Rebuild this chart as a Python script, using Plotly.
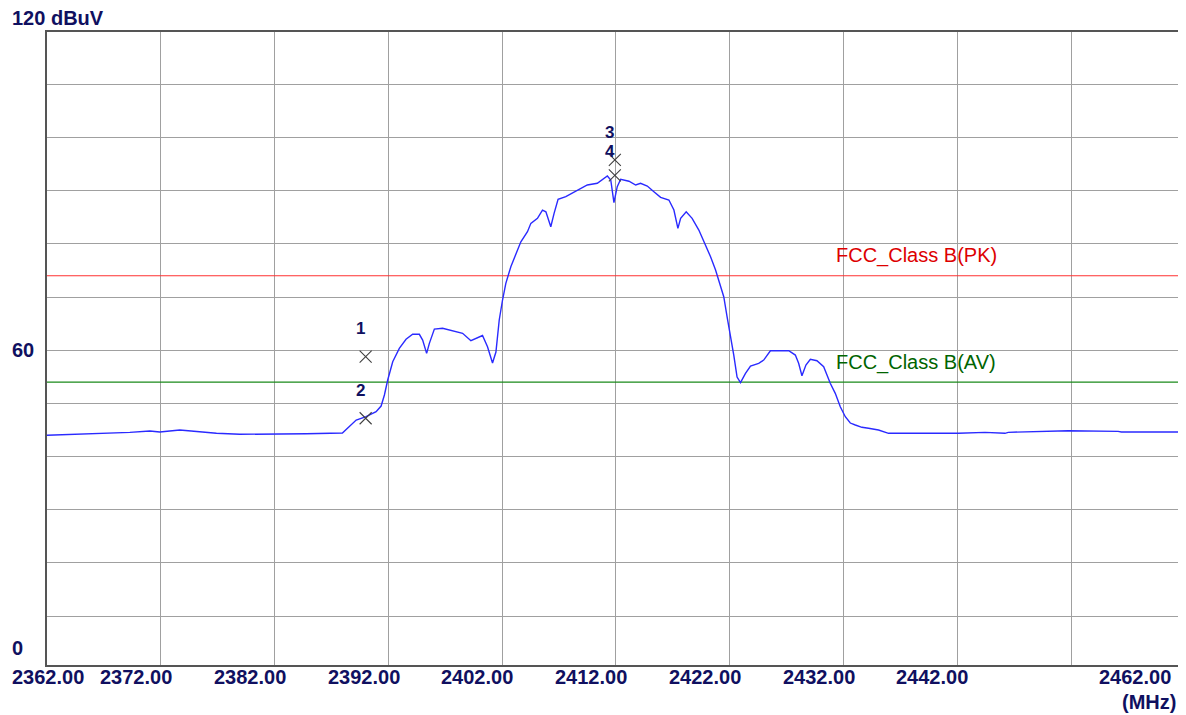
import plotly.graph_objects as go

# ---- data ----
freq_mhz = [
    2362.00, 2363.58, 2366.94, 2369.28, 2371.04, 2371.91, 2373.67, 2375.42, 2376.89, 2378.93,
    2381.82, 2383.05, 2384.78, 2387.96, 2388.58, 2389.17, 2390.04, 2390.92, 2391.36, 2391.65,
    2391.94, 2392.38, 2392.96, 2393.55, 2394.13, 2394.72, 2395.01, 2395.36, 2395.60, 2396.04,
    2396.76, 2397.64, 2398.52, 2399.25, 2399.69, 2400.27, 2400.71, 2401.15, 2401.45, 2401.74,
    2402.03, 2402.32, 2402.76, 2403.20, 2403.64, 2404.22, 2404.52, 2405.10, 2405.54, 2405.84,
    2406.27, 2406.56, 2406.91, 2407.59, 2408.17, 2408.75, 2409.48, 2410.36, 2411.24, 2411.54,
    2411.82, 2412.11, 2412.41, 2413.14, 2413.73, 2414.16, 2414.75, 2415.33, 2415.92, 2416.65,
    2417.09, 2417.44, 2417.68, 2418.17, 2418.69, 2419.28, 2419.87, 2420.31, 2420.75, 2421.18,
    2421.47, 2421.76, 2422.06, 2422.35, 2422.64, 2422.94, 2423.38, 2423.82, 2424.54, 2424.98,
    2425.57, 2427.18, 2427.76, 2428.05, 2428.34, 2428.69, 2429.08, 2429.66, 2430.25, 2430.83,
    2431.27, 2431.71, 2432.15, 2432.59, 2433.03, 2433.61, 2434.19, 2435.07, 2435.95, 2437.99,
    2442.09, 2444.43, 2446.18, 2446.47, 2450.27, 2451.74, 2456.12, 2456.41, 2461.82,
]
level_dbuv = [
    44.00, 44.10, 44.37, 44.55, 44.80, 44.61, 44.99, 44.67, 44.37, 44.18,
    44.18, 44.29, 44.29, 44.42, 45.61, 46.87, 47.49, 48.43, 49.50, 51.57,
    54.39, 57.83, 60.35, 62.05, 62.99, 62.99, 61.91, 59.41, 61.29, 63.98,
    64.12, 63.66, 63.17, 61.78, 62.23, 62.76, 60.65, 57.59, 59.66, 65.68,
    69.44, 72.58, 75.70, 78.22, 80.40, 82.28, 83.86, 84.80, 86.36, 86.04,
    83.22, 85.74, 88.38, 88.87, 89.51, 90.13, 91.07, 91.39, 92.76, 92.01,
    87.74, 90.75, 92.14, 91.78, 91.07, 91.39, 90.88, 89.81, 88.75, 88.25,
    86.36, 82.92, 84.80, 86.04, 84.80, 82.60, 79.78, 77.58, 75.08, 71.94,
    70.06, 66.30, 62.86, 59.09, 54.96, 53.92, 55.65, 57.03, 57.53, 58.15,
    59.90, 59.90, 59.09, 57.53, 55.20, 57.21, 58.28, 58.02, 56.89, 53.77,
    51.89, 49.37, 47.49, 46.30, 45.93, 45.50, 45.31, 44.99, 44.37, 44.37,
    44.37, 44.55, 44.37, 44.55, 44.74, 44.86, 44.74, 44.61, 44.61,
]

marker_ids = ["1", "2", "3", "4"]
marker_freq = [2390.0, 2390.0, 2411.9, 2411.9]
marker_level = [58.8, 47.2, 95.8, 92.9]
marker_label_shift = [28, 28, 27, 24]

limit_names = ["FCC_Class B(PK)", "FCC_Class B(AV)"]
limit_levels = [74, 54]
limit_colors = ["#ff3030", "#1a8a1a"]
limit_text_colors = ["#dd0000", "#006400"]

x_tick_vals = [2362, 2372, 2382, 2392, 2402, 2412, 2422, 2432, 2442, 2462]
x_tick_shift = [1, -25, -25, -24, -25, -25, -25, -25, -25, -46]
y_tick_labels = ["120 dBuV", "60", "0"]
y_tick_vals = [120, 60, 0]
y_tick_shift = [14, 0, 17]

x_range = [2362, 2461.65]
y_range = [0.79, 119.85]

TEXT = "#101060"
FONT = "Liberation Sans, Arial, sans-serif"


def clamp(v, lo, hi):
    return max(lo, min(hi, v))


fig = go.Figure()

# limit lines
for name, lvl, col in zip(limit_names, limit_levels, limit_colors):
    fig.add_trace(go.Scatter(x=x_range, y=[lvl, lvl], mode="lines",
                             line=dict(color=col, width=1.2), hoverinfo="skip",
                             showlegend=False))

# spectrum trace
fig.add_trace(go.Scatter(x=freq_mhz, y=level_dbuv, mode="lines",
                         line=dict(color="#2a2aff", width=1.4), showlegend=False))

# markers
fig.add_trace(go.Scatter(x=marker_freq, y=marker_level, mode="markers",
                         marker=dict(symbol="x-thin", size=12,
                                     line=dict(color="#404040", width=1.1)),
                         showlegend=False))

annotations = []
for mid, mf, ml, sh in zip(marker_ids, marker_freq, marker_level, marker_label_shift):
    annotations.append(dict(x=mf, y=ml, xref="x", yref="y", text=mid, showarrow=False,
                            xshift=-5, yshift=sh,
                            font=dict(family=FONT, size=17, color=TEXT, weight="bold")))

for name, lvl, tcol in zip(limit_names, limit_levels, limit_text_colors):
    annotations.append(dict(x=2432, y=lvl, xref="x", yref="y", text=name, showarrow=False,
                            xanchor="left", yanchor="middle", xshift=-10, yshift=20,
                            font=dict(family=FONT, size=20, color=tcol)))

for v, sh in zip(x_tick_vals, x_tick_shift):
    annotations.append(dict(x=clamp(v, *x_range), y=0, xref="x", yref="paper",
                            text=f"{v:.2f}", showarrow=False, xanchor="center",
                            yanchor="middle", xshift=sh, yshift=-12,
                            font=dict(family=FONT, size=20, color=TEXT, weight="bold")))

annotations.append(dict(x=1, y=0, xref="paper", yref="paper", text="(MHz)",
                        showarrow=False, xanchor="right", yanchor="middle",
                        xshift=-3, yshift=-37,
                        font=dict(family=FONT, size=20, color=TEXT, weight="bold")))

for t, v, sh in zip(y_tick_labels, y_tick_vals, y_tick_shift):
    annotations.append(dict(x=0, y=clamp(v, *y_range), xref="paper", yref="y", text=t,
                            showarrow=False, xanchor="left", yanchor="middle",
                            xshift=-37, yshift=sh,
                            font=dict(family=FONT, size=20, color=TEXT, weight="bold")))

# the page body has an 8px margin, so the figure is drawn 8px smaller
fig.update_layout(
    width=1178, height=707,
    margin=dict(l=39, r=3, t=24, b=50),
    paper_bgcolor="white", plot_bgcolor="white",
    annotations=annotations,
    showlegend=False,
)
fig.update_xaxes(range=x_range, tick0=2362, dtick=10, showticklabels=False, ticks="",
                 showgrid=True, gridcolor="#a0a0a0", gridwidth=1.3, zeroline=False,
                 showline=True, linecolor="#555555", linewidth=1.5, mirror=True)
fig.update_yaxes(range=y_range, tick0=0, dtick=10, showticklabels=False, ticks="",
                 showgrid=True, gridcolor="#a0a0a0", gridwidth=1.3, zeroline=False,
                 showline=True, linecolor="#555555", linewidth=1.5, mirror=True)

fig.write_html("out.html")
